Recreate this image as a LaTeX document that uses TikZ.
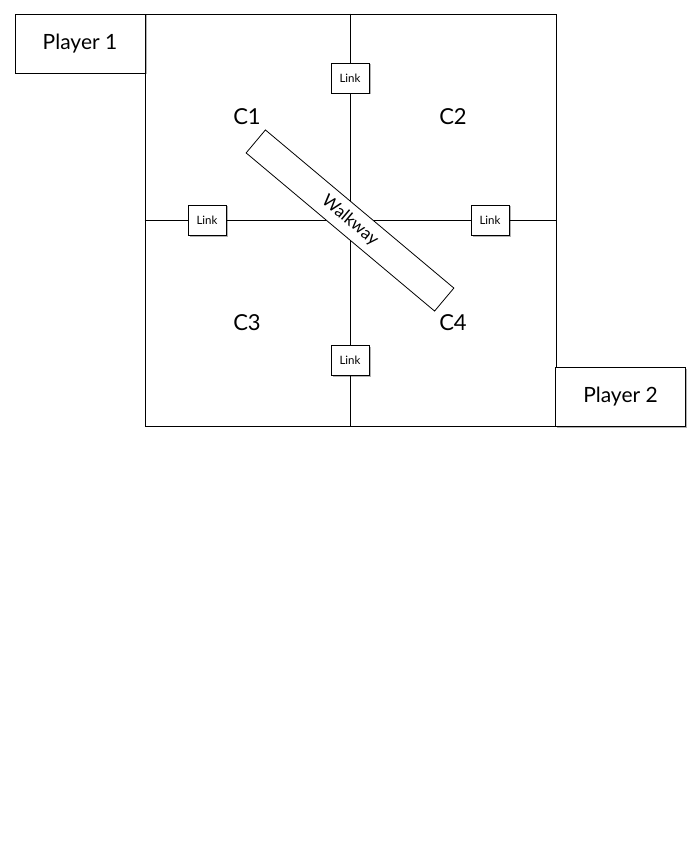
\documentclass[tikz,border=0pt]{standalone}
\usepackage{fontspec}
\setmainfont{Lato}
\usetikzlibrary{shadows}
\begin{document}
\begin{tikzpicture}[x=1pt,y=-1pt,
  line width=0.8pt,
  shadowed/.style={drop shadow={shadow xshift=1.5pt,shadow yshift=-1.5pt,opacity=0.3,fill=black}},
  player/.style={draw,fill=white,shadowed,minimum width=130pt,minimum height=59pt,inner sep=0pt,font=\fontsize{21}{25}\selectfont},
  linkbox/.style={draw,fill=white,shadowed,minimum width=38pt,minimum height=30pt,inner sep=0pt,font=\fontsize{11.5}{13}\selectfont},
  corner/.style={font=\fontsize{22}{26}\selectfont},
  walk/.style={draw,fill=white,minimum width=246pt,minimum height=30pt,inner sep=0pt,rotate=-40,font=\fontsize{17}{20}\selectfont}
]
\useasboundingbox (0,0) rectangle (700,842);
\fill[white] (0,0) rectangle (700,842);
\node[draw,minimum width=411pt,minimum height=412pt,inner sep=0pt] (board) at (350.5,220) {};
\draw (board.north) -- (board.south);
\draw (board.west) -- (board.east);
\node[player] (p1) at (80,43.5) {Player 1};
\node[player] (p2) at (620.5,396.5) {Player 2};
\node[linkbox] (ltop) at (350,78) {Link};
\node[linkbox] (lleft) at (207,220) {Link};
\node[linkbox] (lright) at (490,220) {Link};
\node[linkbox] (lbot) at (350,360) {Link};
\node[walk] (walkway) at (350,220.5) {Walkway};
\node[corner] (c1) at (247,117) {C1};
\node[corner] (c2) at (453,117) {C2};
\node[corner] (c3) at (247,323) {C3};
\node[corner] (c4) at (453,323) {C4};
\end{tikzpicture}
\end{document}
